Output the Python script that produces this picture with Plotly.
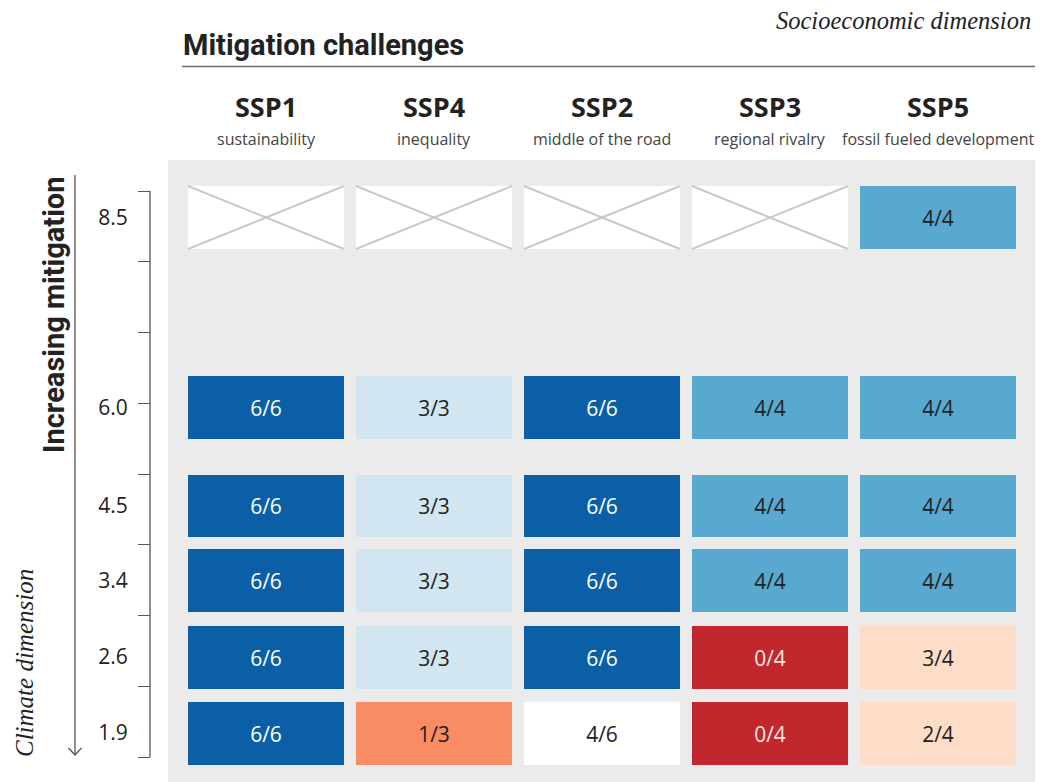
import plotly.graph_objects as go

# ---------------- data ----------------
scenarios = ["8.5", "6.0", "4.5", "3.4", "2.6", "1.9"]
ssp_names = ["SSP1", "SSP4", "SSP2", "SSP3", "SSP5"]
ssp_desc = ["sustainability", "inequality", "middle of the road",
            "regional rivalry", "fossil fueled development"]
row_85 = [None, None, None, None, "4/4"]
row_60 = ["6/6", "3/3", "6/6", "4/4", "4/4"]
row_45 = ["6/6", "3/3", "6/6", "4/4", "4/4"]
row_34 = ["6/6", "3/3", "6/6", "4/4", "4/4"]
row_26 = ["6/6", "3/3", "6/6", "0/4", "3/4"]
row_19 = ["6/6", "1/3", "4/6", "0/4", "2/4"]
cells = [row_85, row_60, row_45, row_34, row_26, row_19]

title = "Mitigation challenges"
top_note = "Socioeconomic dimension"
y_title = "Increasing mitigation"
y_note = "Climate dimension"

# ---------------- layout / style ----------------
W, H = 1045, 782
# row centres on the bracket scale (tick index units)
row_pos = [0.375, 3.06, 4.452, 5.512, 6.587, 7.661]
row_h = 0.89
col_w = 0.9286
n_ticks = 9

color_map = {"6/6": "#0b5fa6", "4/4": "#58a8d0", "3/3": "#d1e6f1",
             "4/6": "#ffffff", "0/4": "#c1272d", "3/4": "#fddcc8",
             "2/4": "#fddcc8", "1/3": "#f98c62"}
text_map = {"6/6": "#ffffff", "0/4": "#f6e4e4"}
dark = "#222222"

def px(x):
    return x / W

def py(y):
    return 1 - y / H

SANS = "Open Sans, Noto Sans, sans-serif"
NARROW = "Liberation Sans Narrow, Roboto, sans-serif"
SERIF = "Liberation Serif, DejaVu Serif, serif"

fig = go.Figure()

# filled cells (bars)
bx, by, bbase, bcol, btxt, bfc = [], [], [], [], [], []
ex, ey = [], []
for r, row in enumerate(cells):
    for c, v in enumerate(row):
        top = row_pos[r] - row_h / 2
        bx.append(c)
        by.append(row_h)
        bbase.append(top)
        if v is None:
            bcol.append("#ffffff")
            btxt.append("")
            bfc.append(dark)
            x0, x1 = c - col_w / 2, c + col_w / 2
            y0, y1 = top, top + row_h
            ex += [x0, x1, None, x0, x1, None]
            ey += [y0, y1, None, y1, y0, None]
        else:
            bcol.append(color_map[v])
            btxt.append(v)
            bfc.append(text_map.get(v, dark))

fig.add_trace(go.Bar(
    x=bx, y=by, base=bbase, width=col_w,
    marker=dict(color=bcol, line=dict(width=0)),
    text=btxt, textposition="inside", insidetextanchor="middle",
    textangle=0, constraintext="none",
    textfont=dict(family=SANS, size=21, color=bfc),
    hoverinfo="skip", showlegend=False, yaxis="y"))

fig.add_trace(go.Scatter(
    x=ex, y=ey, mode="lines", line=dict(color="#c9c9c9", width=2),
    hoverinfo="skip", showlegend=False, yaxis="y"))

# invisible trace to bind the bracket axis
fig.add_trace(go.Scatter(x=[0], y=[0], mode="markers",
                         marker=dict(opacity=0), hoverinfo="skip",
                         showlegend=False, yaxis="y2"))

# axis ranges mapping pixel space
x_rng = [-266 / 168, (W - 266) / 168]
y_rng = [(H - 191) / 70.75, -191 / 70.75]
axis_x = px(150)

fig.update_layout(
    width=W, height=H,
    margin=dict(l=0, r=0, t=0, b=0, autoexpand=False),
    paper_bgcolor="white", plot_bgcolor="rgba(0,0,0,0)",
    bargap=0,
    xaxis=dict(range=x_rng, domain=[0, 1], visible=False, fixedrange=True),
    yaxis=dict(range=y_rng, domain=[0, 1], anchor="free", position=axis_x,
               tickmode="array", tickvals=row_pos, ticktext=scenarios,
               ticks="outside", ticklen=18, tickcolor="rgba(0,0,0,0)",
               showline=False, showgrid=False, zeroline=False,
               tickfont=dict(family=SANS, size=21, color=dark)),
    yaxis2=dict(range=y_rng, domain=[0, 1], overlaying="y", anchor="free",
                position=axis_x, side="left",
                tickmode="array", tickvals=list(range(n_ticks)),
                showticklabels=False, ticks="outside", ticklen=12,
                tickwidth=1.3, tickcolor="#555555",
                showline=False, showgrid=False, zeroline=False),
)

shapes = [
    # grey panel
    dict(type="rect", xref="paper", yref="paper", x0=px(168), x1=px(1035),
         y0=0, y1=py(160), fillcolor="#ebebeb", line=dict(width=0),
         layer="below"),
    # title underline
    dict(type="line", xref="paper", yref="paper", x0=px(182), x1=px(1035),
         y0=py(66.5), y1=py(66.5), line=dict(color="#6d6d6d", width=1.5)),
    # bracket spine
    dict(type="line", xref="paper", yref="y2", x0=axis_x, x1=axis_x,
         y0=0, y1=n_ticks - 1, line=dict(color="#555555", width=1.3)),
    # arrow
    dict(type="line", xref="paper", yref="paper", x0=px(75), x1=px(75),
         y0=py(175), y1=py(755), line=dict(color="#555555", width=1.3)),
    dict(type="path", xref="paper", yref="paper",
         path=f"M {px(68.5)} {py(748)} L {px(75)} {py(755)} L {px(81.5)} {py(748)}",
         line=dict(color="#555555", width=1.3)),
]

ann = [
    dict(text=f"<b>{title}</b>", x=px(181), y=py(45), xanchor="left",
         yanchor="middle", font=dict(family=NARROW, size=29, color=dark)),
    dict(text=f"<i>{top_note}</i>", x=px(1033), y=py(21), xanchor="right",
         yanchor="middle", font=dict(family=SERIF, size=24.5, color=dark)),
    dict(text=f"<b>{y_title}</b>", x=px(54), y=py(315), textangle=-90,
         xanchor="center", yanchor="middle",
         font=dict(family=NARROW, size=29, color=dark)),
    dict(text=f"<i>{y_note}</i>", x=px(24), y=py(663), textangle=-90,
         xanchor="center", yanchor="middle",
         font=dict(family=SERIF, size=25, color=dark)),
]
for c, (nm, ds) in enumerate(zip(ssp_names, ssp_desc)):
    ann.append(dict(text=f"<b>{nm}</b>", x=c, xref="x", y=py(107), yref="paper",
                    xanchor="center", yanchor="middle",
                    font=dict(family=SANS, size=27, color=dark)))
    ann.append(dict(text=ds, x=c, xref="x", y=py(139), yref="paper",
                    xanchor="center", yanchor="middle",
                    font=dict(family=SANS, size=16, color="#444444")))
for a in ann:
    a.setdefault("xref", "paper")
    a.setdefault("yref", "paper")
    a["showarrow"] = False

fig.update_layout(shapes=shapes, annotations=ann)
fig.write_html("out.html", config={"displayModeBar": False},
               post_script="document.body.style.margin='0';"
                           "document.body.style.overflow='hidden';")
